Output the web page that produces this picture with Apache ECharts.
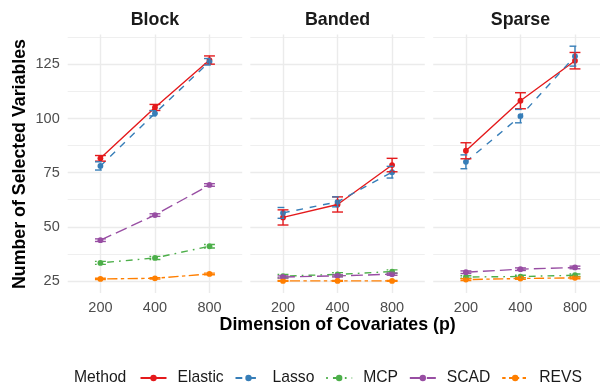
<!DOCTYPE html>
<html>
<head>
<meta charset="utf-8">
<script src="https://cdn.jsdelivr.net/npm/echarts@6/dist/echarts.min.js"></script>
<style>
html,body{margin:0;padding:0;background:#fff;}
#chart{width:600px;height:387px;}
</style>
</head>
<body>
<div id="chart"></div>
<script>
// ---- data ----
const categories = ['200', '400', '800'];
const facets = ['Block', 'Banded', 'Sparse'];
const methods = ['Elastic', 'Lasso', 'MCP', 'SCAD', 'REVS'];
const yTickValues = [25, 50, 75, 100, 125];
const yMinorValues = [37.5, 62.5, 87.5, 112.5, 137.5];

// means
const blockElastic = [81.6, 105.1, 127.0];
const blockLasso   = [78.1, 102.4, 126.2];
const blockMCP     = [33.3, 35.6, 41.0];
const blockSCAD    = [43.8, 55.4, 69.3];
const blockREVS    = [25.9, 26.2, 28.2];

const bandedElastic = [54.3, 60.3, 78.5];
const bandedLasso   = [56.4, 61.5, 75.2];
const bandedMCP     = [27.2, 28.0, 29.3];
const bandedSCAD    = [26.8, 27.3, 28.1];
const bandedREVS    = [25.0, 25.0, 25.0];

const sparseElastic = [85.1, 108.2, 126.7];
const sparseLasso   = [80.0, 101.1, 128.8];
const sparseMCP     = [26.8, 27.0, 27.6];
const sparseSCAD    = [29.0, 30.4, 31.2];
const sparseREVS    = [25.6, 26.1, 26.4];

// error half-widths
const blockElasticErr = [1.3, 1.4, 1.9];
const blockLassoErr   = [1.9, 1.2, 1.5];
const blockMCPErr     = [0.7, 0.7, 0.8];
const blockSCADErr    = [0.6, 0.6, 0.6];
const blockREVSErr    = [0.3, 0.3, 0.4];

const bandedElasticErr = [3.5, 3.5, 3.1];
const bandedLassoErr   = [2.5, 2.3, 2.7];
const bandedMCPErr     = [0.8, 0.8, 0.8];
const bandedSCADErr    = [0.5, 0.5, 0.5];
const bandedREVSErr    = [0.2, 0.2, 0.2];

const sparseElasticErr = [3.7, 3.7, 3.8];
const sparseLassoErr   = [3.2, 3.1, 4.6];
const sparseMCPErr     = [0.6, 0.6, 0.6];
const sparseSCADErr    = [0.6, 0.6, 0.6];
const sparseREVSErr    = [0.4, 0.4, 0.4];

// ---- assembly ----
const means = [
  [blockElastic, blockLasso, blockMCP, blockSCAD, blockREVS],
  [bandedElastic, bandedLasso, bandedMCP, bandedSCAD, bandedREVS],
  [sparseElastic, sparseLasso, sparseMCP, sparseSCAD, sparseREVS]
];
const errs = [
  [blockElasticErr, blockLassoErr, blockMCPErr, blockSCADErr, blockREVSErr],
  [bandedElasticErr, bandedLassoErr, bandedMCPErr, bandedSCADErr, bandedREVSErr],
  [sparseElasticErr, sparseLassoErr, sparseMCPErr, sparseSCADErr, sparseREVSErr]
];

const colors = ['#E41A1C', '#377EB8', '#4DAF4A', '#984EA3', '#FF7F00'];
const dashes = ['solid', [6.8, 6.8], [1.7, 5.1, 6.8, 5.1], [11.9, 5.1], [3.4, 3.4, 10.2, 3.4]];
const FONT = '"Liberation Sans", Arial, Helvetica, sans-serif';
const LW = 1.4;
const yMin = 19.4, yMax = 138.8;

const gridLefts = [67.7, 250.3, 433.2];
const gridW = 174.5, gridTop = 34.5, gridH = 258.5;

const chart = echarts.init(document.getElementById('chart'), null, {renderer: 'canvas'});

const grids = [], xAxes = [], yAxes = [], series = [];
facets.forEach((f, i) => {
  grids.push({left: gridLefts[i], top: gridTop, width: gridW, height: gridH, outerBoundsMode: 'none', containLabel: false});
  xAxes.push({
    type: 'value', gridIndex: i, min: -0.6, max: 2.6,
    axisLine: {show: false},
    axisTick: {show: false, customValues: [0, 1, 2]},
    axisLabel: {customValues: [0, 1, 2], formatter: v => categories[Math.round(v)],
      color: '#4D4D4D', fontSize: 14.5, margin: 7, fontFamily: FONT},
    splitLine: {show: true, lineStyle: {color: '#EBEBEB', width: 1.4}}
  });
  yAxes.push({
    type: 'value', gridIndex: i, min: yMin, max: yMax,
    axisLine: {show: false},
    axisTick: {show: false, customValues: yTickValues},
    axisLabel: {show: i === 0, customValues: yTickValues, color: '#4D4D4D', fontSize: 14.5, margin: 8, fontFamily: FONT},
    splitLine: {show: true, lineStyle: {color: '#EBEBEB', width: 1.4}}
  });
  yAxes.push({
    type: 'value', gridIndex: i, min: yMin, max: yMax,
    axisLine: {show: false},
    axisTick: {show: false, customValues: yMinorValues},
    axisLabel: {show: false, customValues: yMinorValues},
    splitLine: {show: true, lineStyle: {color: '#EBEBEB', width: 0.8}}
  });
});

// lines with points
facets.forEach((f, i) => {
  methods.forEach((m, k) => {
    series.push({
      type: 'line', name: m, xAxisIndex: i, yAxisIndex: 2 * i,
      data: means[i][k].map((v, j) => [j, v]),
      symbol: 'circle', symbolSize: 5.8, showSymbol: true,
      lineStyle: {color: colors[k], width: LW, type: dashes[k]},
      itemStyle: {color: colors[k]},
      emphasis: {disabled: true}, silent: true, z: 2 + k * 0.01, animation: false
    });
  });
});
// error bars
facets.forEach((f, i) => {
  methods.forEach((m, k) => {
    const color = colors[k];
    const dash = dashes[k] === 'solid' ? null : dashes[k];
    series.push({
      type: 'custom', name: m, xAxisIndex: i, yAxisIndex: 2 * i,
      data: means[i][k].map((v, j) => [j, v - errs[i][k][j], v + errs[i][k][j]]),
      encode: {x: 0, y: [1, 2]},
      silent: true, z: 3 + k * 0.01, animation: false,
      renderItem: function (params, api) {
        const x = api.value(0);
        const lo = api.coord([x, api.value(1)]);
        const hi = api.coord([x, api.value(2)]);
        const half = api.size([0.1, 0])[0];
        const st = {stroke: color, lineWidth: LW, lineDash: dash};
        return {type: 'group', children: [
          {type: 'line', shape: {x1: lo[0], y1: lo[1], x2: hi[0], y2: hi[1]}, style: st},
          {type: 'line', shape: {x1: hi[0] - half, y1: hi[1], x2: hi[0] + half, y2: hi[1]}, style: st},
          {type: 'line', shape: {x1: lo[0] - half, y1: lo[1], x2: lo[0] + half, y2: lo[1]}, style: st}
        ]};
      }
    });
  });
});

const graphics = [];
facets.forEach((f, i) => {
  graphics.push({type: 'text', x: gridLefts[i] + gridW / 2, y: 20,
    style: {text: f, font: 'bold 17.8px ' + FONT, fill: '#1A1A1A', align: 'center', verticalAlign: 'middle'}});
});
graphics.push({type: 'text', x: 20, y: 164, rotation: Math.PI / 2,
  style: {text: 'Number of Selected Variables', font: 'bold 17.8px ' + FONT, fill: '#000', align: 'center', verticalAlign: 'middle'}});
graphics.push({type: 'text', x: 337.6, y: 325,
  style: {text: 'Dimension of Covariates (p)', font: 'bold 17.8px ' + FONT, fill: '#000', align: 'center', verticalAlign: 'middle'}});
graphics.push({type: 'text', x: 74, y: 378,
  style: {text: 'Method', font: '15.7px ' + FONT, fill: '#1A1A1A', align: 'left', verticalAlign: 'middle'}});

chart.setOption({
  animation: false,
  backgroundColor: '#fff',
  grid: grids,
  xAxis: xAxes,
  yAxis: yAxes,
  legend: {
    left: 139.5, top: 370, padding: 0, itemWidth: 26, itemHeight: 8, itemGap: 10.8,
    data: methods, selectedMode: false,
    textStyle: {fontSize: 15.7, color: '#1A1A1A', fontFamily: FONT, padding: [0, 0, 0, 6]}
  },
  graphic: graphics,
  series: series
});
</script>
</body>
</html>
